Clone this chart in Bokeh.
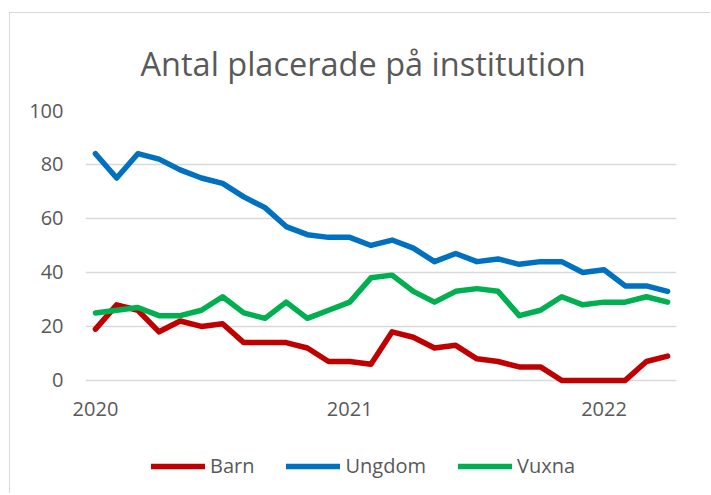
from bokeh.plotting import figure
from bokeh.models import Range1d, FixedTicker, Legend, LegendItem, ColumnDataSource
from bokeh.layouts import column
from bokeh.embed import file_html
from bokeh.resources import INLINE

# Monthly values, Jan 2020 - Apr 2022
months = [f"{y}-{m:02d}" for y in (2020, 2021, 2022) for m in range(1, 13)][:28]
barn = [19, 28, 26, 18, 22, 20, 21, 14, 14, 14, 12, 7, 7, 6,
        18, 16, 12, 13, 8, 7, 5, 5, 0, 0, 0, 0, 7, 9]
ungdom = [84, 75, 84, 82, 78, 75, 73, 68, 64, 57, 54, 53, 53, 50,
          52, 49, 44, 47, 44, 45, 43, 44, 44, 40, 41, 35, 35, 33]
vuxna = [25, 26, 27, 24, 24, 26, 31, 25, 23, 29, 23, 26, 29, 38,
         39, 33, 29, 33, 34, 33, 24, 26, 31, 28, 29, 29, 31, 29]
year_labels = ["2020", "2021", "2022"]
year_ticks = [0, 12, 24]
y_ticks = [0, 20, 40, 60, 80, 100]

series_names = ["Barn", "Ungdom", "Vuxna"]
series_colors = ["#C00000", "#0070C0", "#00B050"]

x = list(range(len(months)))
src = ColumnDataSource(dict(x=x, month=months, Barn=barn, Ungdom=ungdom, Vuxna=vuxna))

GRAY = "#595959"
FONT = "Open Sans"

# ---- main chart ----
p = figure(width=700, height=420, output_backend="svg", toolbar_location=None,
           x_range=Range1d(-0.47, 27.42), y_range=Range1d(-3, 100),
           min_border_left=75, min_border_right=34, min_border_top=97, min_border_bottom=45)
p.outline_line_color = None
p.background_fill_color = "white"
p.border_fill_color = "white"

p.title.text = "Antal placerade på institution"
p.title.text_font = FONT
p.title.text_font_size = "32.5px"
p.title.text_font_style = "normal"
p.title.text_color = GRAY
p.title.align = "left"
p.title.offset = 55
p.title.standoff = 50

for name, col in zip(series_names, series_colors):
    p.line("x", name, source=src, line_color=col, line_width=5.5,
           line_cap="round", line_join="round")

p.xgrid.visible = False
p.ygrid.grid_line_color = "#d9d9d9"
p.ygrid.grid_line_width = 1.3
p.ygrid.ticker = FixedTicker(ticks=y_ticks)

for ax in (p.xaxis[0], p.yaxis[0]):
    ax.axis_line_color = None
    ax.major_tick_line_color = None
    ax.minor_tick_line_color = None
    ax.major_label_text_font = FONT
    ax.major_label_text_font_size = "20px"
    ax.major_label_text_color = GRAY

p.yaxis.ticker = FixedTicker(ticks=y_ticks)
p.yaxis.major_label_standoff = 16
p.xaxis.ticker = FixedTicker(ticks=year_ticks)
p.xaxis.major_label_overrides = {t: l for t, l in zip(year_ticks, year_labels)}
p.xaxis.major_label_standoff = 7

# ---- legend strip (same series, legend only) ----
q = figure(width=700, height=60, output_backend="svg", toolbar_location=None,
           x_range=Range1d(1000, 1001), y_range=Range1d(1000, 1001),
           min_border=0)
q.axis.visible = False
q.grid.visible = False
q.outline_line_color = None
q.border_fill_color = "white"
q.background_fill_color = "white"
leg_renderers = []
for name, col in zip(series_names, series_colors):
    r = q.line("x", name, source=src, line_color=col, line_width=5.5, line_cap="round")
    leg_renderers.append(r)

legend = Legend(items=[LegendItem(label=n, renderers=[r]) for n, r in zip(series_names, leg_renderers)],
                orientation="horizontal", location=(66, 14),
                glyph_width=54, glyph_height=20, label_standoff=5, spacing=32,
                padding=0, margin=0, border_line_color=None, background_fill_alpha=0,
                label_text_font=FONT, label_text_font_size="20px", label_text_color=GRAY)
q.add_layout(legend, "center")

layout = column(p, q, spacing=0,
                styles={"border-left": "1px solid #d9d9d9", "border-top": "1px solid #d9d9d9",
                        "margin-left": "9px", "margin-top": "12px"})
open("out.html", "w").write(file_html(layout, INLINE))
